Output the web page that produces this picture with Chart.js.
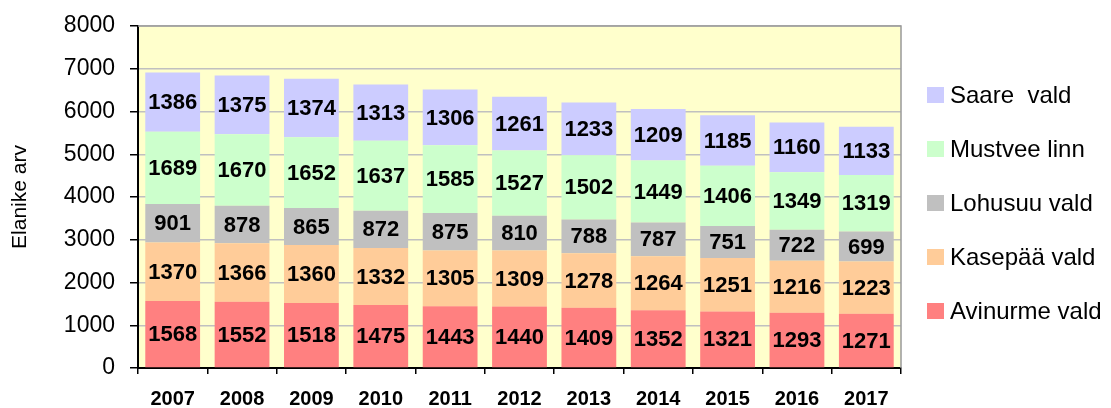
<!DOCTYPE html>
<html>
<head>
<meta charset="utf-8">
<script src="https://cdn.jsdelivr.net/npm/chart.js@4"></script>
<style>
  html, body { margin: 0; padding: 0; background: #fff; }
  #wrap { width: 1111px; height: 408px; }
</style>
</head>
<body>
<div id="wrap"><canvas id="myChart"></canvas></div>
<script>
const years = ['2007', '2008', '2009', '2010', '2011', '2012', '2013', '2014', '2015', '2016', '2017'];

const avinurme = [1568, 1552, 1518, 1475, 1443, 1440, 1409, 1352, 1321, 1293, 1271];
const kasepaa  = [1370, 1366, 1360, 1332, 1305, 1309, 1278, 1264, 1251, 1216, 1223];
const lohusuu  = [901, 878, 865, 872, 875, 810, 788, 787, 751, 722, 699];
const mustvee  = [1689, 1670, 1652, 1637, 1585, 1527, 1502, 1449, 1406, 1349, 1319];
const saare    = [1386, 1375, 1374, 1313, 1306, 1261, 1233, 1209, 1185, 1160, 1133];

const FONT = "'Liberation Sans', Arial, sans-serif";

// yellow plot area + gray frame on top/right
const plotBg = {
    id: 'plotBg',
    beforeDraw(chart) {
        const { ctx, chartArea: a } = chart;
        ctx.save();
        ctx.fillStyle = '#ffffcc';
        ctx.fillRect(a.left, a.top, a.right - a.left, a.bottom - a.top);
        ctx.restore();
    },
    afterDraw(chart) {
        const { ctx, chartArea: a } = chart;
        ctx.save();
        ctx.strokeStyle = '#999999';
        ctx.lineWidth = 1.5;
        ctx.beginPath();
        ctx.moveTo(a.left, a.top);
        ctx.lineTo(a.right, a.top);
        ctx.lineTo(a.right, a.bottom);
        ctx.stroke();
        ctx.restore();
    }
};

// values in the middle of each segment
const segLabels = {
    id: 'segLabels',
    afterDatasetsDraw(chart) {
        const ctx = chart.ctx;
        ctx.save();
        ctx.font = 'bold 22px ' + FONT;
        ctx.fillStyle = '#000';
        ctx.textAlign = 'center';
        ctx.textBaseline = 'middle';
        chart.data.datasets.forEach((ds, i) => {
            chart.getDatasetMeta(i).data.forEach((bar, j) => {
                const mid = (bar.y + bar.base) / 2;
                ctx.fillText(ds.data[j], bar.x, mid + 1);
            });
        });
        ctx.restore();
    }
};

// legend on the right, top item = last dataset
const sideLegend = {
    id: 'sideLegend',
    afterDraw(chart) {
        const ctx = chart.ctx;
        const ds = chart.data.datasets.slice().reverse();
        ctx.save();
        ctx.font = '24px ' + FONT;
        ctx.textBaseline = 'middle';
        ds.forEach((d, i) => {
            const y = 95 + i * 54;
            ctx.fillStyle = d.backgroundColor;
            ctx.fillRect(927, y - 8, 17, 16);
            ctx.fillStyle = '#000';
            ctx.fillText(d.label, 950, y + 1);
        });
        ctx.restore();
    }
};

new Chart(document.getElementById('myChart'), {
    type: 'bar',
    data: {
        labels: years,
        datasets: [
            { label: 'Avinurme vald', data: avinurme, backgroundColor: '#ff8080' },
            { label: 'Kasepää vald', data: kasepaa, backgroundColor: '#ffcc99' },
            { label: 'Lohusuu vald', data: lohusuu, backgroundColor: '#c0c0c0' },
            { label: 'Mustvee linn', data: mustvee, backgroundColor: '#ccffcc' },
            { label: 'Saare  vald', data: saare, backgroundColor: '#ccccff' }
        ]
    },
    options: {
        responsive: true,
        maintainAspectRatio: false,
        animation: false,
        layout: {
            padding: { top: 26, right: 210, left: 0, bottom: 0 }
        },
        datasets: {
            bar: {
                barPercentage: 0.79,
                categoryPercentage: 1
            }
        },
        scales: {
            x: {
                stacked: true,
                afterFit: s => { s.height = 40; s.paddingLeft = 0; s.paddingRight = 0; },
                grid: {
                    offset: true,
                    drawOnChartArea: false,
                    tickColor: '#000',
                    tickLength: 6,
                    lineWidth: 1.5
                },
                border: { color: '#000', width: 2 },
                ticks: {
                    color: '#000',
                    padding: 13,
                    maxRotation: 0,
                    font: { family: FONT, size: 20, weight: 'bold' }
                }
            },
            y: {
                stacked: true,
                min: 0,
                max: 8000,
                afterFit: s => { s.width = 138; s.paddingTop = 0; s.paddingBottom = 0; },
                grid: {
                    color: '#c0c0c0',
                    lineWidth: 1.5,
                    tickColor: '#000',
                    tickLength: 8
                },
                border: { color: '#000', width: 2 },
                ticks: {
                    stepSize: 1000,
                    color: '#000',
                    padding: 15,
                    font: { family: FONT, size: 23 },
                    callback: v => String(v)
                },
                title: {
                    display: true,
                    text: 'Elanike arv',
                    color: '#000',
                    padding: { top: 8, bottom: 0 },
                    font: { family: FONT, size: 21 }
                }
            }
        },
        plugins: {
            legend: { display: false },
            tooltip: { enabled: false }
        }
    },
    plugins: [plotBg, segLabels, sideLegend]
});
</script>
</body>
</html>
